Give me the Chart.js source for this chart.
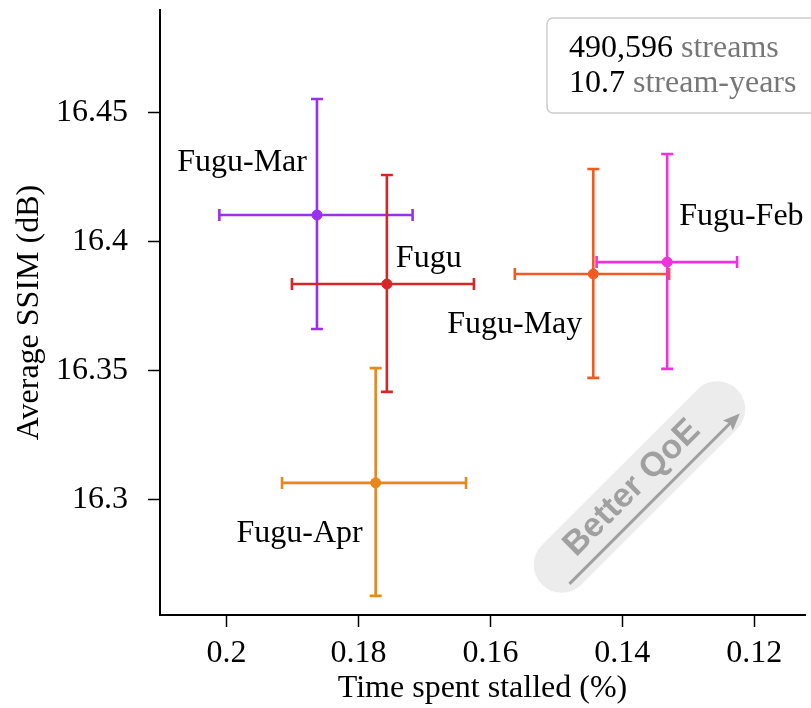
<!DOCTYPE html>
<html>
<head>
<meta charset="utf-8">
<script src="https://cdn.jsdelivr.net/npm/chart.js"></script>
<style>
  body { margin: 0; background: #fff; }
  #wrap { width: 811px; height: 708px; }
</style>
</head>
<body>
<div id="wrap"><canvas id="myChart" width="811" height="708"></canvas></div>
<script>
// data
const names = ['Fugu-Mar', 'Fugu', 'Fugu-Apr', 'Fugu-May', 'Fugu-Feb'];
const stall = [0.1863, 0.1757, 0.1774, 0.1444, 0.1332];      // x, %
const stallLow = [0.2011, 0.1901, 0.1916, 0.1563, 0.1439];   // x error, left end
const stallHigh = [0.1718, 0.1625, 0.1637, 0.1329, 0.1226];  // x error, right end
const ssim = [16.4102, 16.3835, 16.3066, 16.3874, 16.3920];  // y, dB
const ssimHigh = [16.4551, 16.4257, 16.3510, 16.4280, 16.4338];
const ssimLow = [16.3661, 16.3418, 16.2629, 16.3472, 16.3507];
const xTicks = [0.2, 0.18, 0.16, 0.14, 0.12];
const yTicks = [16.3, 16.35, 16.4, 16.45];
const statNums = ['490,596', '10.7'];
const statWords = ['streams', 'stream-years'];

// styles
const colors = ['#9b30ea', '#d62728', '#e8871e', '#f15a24', '#f032dc'];
// label placement relative to each point (px): dx, dy, align
const labelPos = [[-10, -44, 'right'], [9, -17, 'left'], [-13, 59, 'right'], [-11, 59, 'right'], [12, -37, 'left']];

const serif = "'Liberation Serif', 'Times New Roman', serif";
Chart.defaults.font.family = serif;
Chart.defaults.font.size = 32;
Chart.defaults.color = '#000';

const errorBars = {
  id: 'errorBars',
  beforeDatasetsDraw(chart) {
    const c = chart.ctx, xs = chart.scales.x, ys = chart.scales.y;
    c.save();
    c.lineWidth = 2.6;
    names.forEach((n, i) => {
      const px = xs.getPixelForValue(stall[i]), py = ys.getPixelForValue(ssim[i]);
      const x1 = xs.getPixelForValue(stallLow[i]), x2 = xs.getPixelForValue(stallHigh[i]);
      const y1 = ys.getPixelForValue(ssimHigh[i]), y2 = ys.getPixelForValue(ssimLow[i]);
      const cap = 6;
      c.strokeStyle = colors[i];
      c.beginPath();
      c.moveTo(x1, py); c.lineTo(x2, py);
      c.moveTo(x1, py - cap); c.lineTo(x1, py + cap);
      c.moveTo(x2, py - cap); c.lineTo(x2, py + cap);
      c.moveTo(px, y1); c.lineTo(px, y2);
      c.moveTo(px - cap, y1); c.lineTo(px + cap, y1);
      c.moveTo(px - cap, y2); c.lineTo(px + cap, y2);
      c.stroke();
    });
    c.restore();
  },
  afterDraw(chart) {
    const c = chart.ctx, xs = chart.scales.x, ys = chart.scales.y, area = chart.chartArea;
    c.save();
    // point labels
    c.font = '32px ' + serif;
    c.fillStyle = '#000';
    c.textBaseline = 'alphabetic';
    names.forEach((n, i) => {
      const px = xs.getPixelForValue(stall[i]), py = ys.getPixelForValue(ssim[i]);
      const [dx, dy, al] = labelPos[i];
      c.textAlign = al;
      c.fillText(n, px + dx, py + dy);
    });

    // "Better QoE" badge, anchored in data space
    const bx = xs.getPixelForValue(0.1374), by = ys.getPixelForValue(16.305);
    c.save();
    c.translate(bx, by);
    c.rotate(-Math.PI / 4);
    c.fillStyle = '#ececec';
    c.beginPath();
    c.roundRect(-138, -28, 276, 56, 28);
    c.fill();
    c.strokeStyle = '#a0a0a0';
    c.fillStyle = '#a0a0a0';
    c.lineWidth = 3;
    c.beginPath();
    c.moveTo(-118, 19); c.lineTo(112, 19);
    c.stroke();
    c.beginPath();
    c.moveTo(123, 19); c.lineTo(106, 12); c.lineTo(109, 19); c.lineTo(106, 26); c.closePath();
    c.fill();
    c.font = "bold 34px 'Liberation Sans', Arial, sans-serif";
    c.textAlign = 'center';
    c.textBaseline = 'alphabetic';
    c.fillText('Better QoE', -6, 5);
    c.restore();

    // stats box in the upper right
    const left = area.right - 258, top = 18;
    c.fillStyle = 'rgba(255,255,255,0.85)';
    c.strokeStyle = '#cccccc';
    c.lineWidth = 1.5;
    c.beginPath();
    c.roundRect(left, top, 275, 95, 6);
    c.fill();
    c.stroke();
    c.font = '32px ' + serif;
    c.textAlign = 'left';
    statNums.forEach((num, i) => {
      const y = top + 39 + i * 35;
      c.fillStyle = '#000';
      c.fillText(num + ' ', left + 22, y);
      const w = c.measureText(num + ' ').width;
      c.fillStyle = '#777777';
      c.fillText(statWords[i], left + 22 + w, y);
    });
    c.restore();
  }
};

const ctx = document.getElementById('myChart').getContext('2d');
const myChart = new Chart(ctx, {
  type: 'scatter',
  data: {
    datasets: names.map((n, i) => ({
      label: n,
      data: [{ x: stall[i], y: ssim[i] }],
      backgroundColor: colors[i],
      borderColor: colors[i],
      pointRadius: 5,
      pointHoverRadius: 5
    }))
  },
  options: {
    responsive: false,
    animation: false,
    layout: { padding: { top: 10, right: 0, left: 0, bottom: 0 } },
    plugins: { legend: { display: false }, tooltip: { enabled: false } },
    scales: {
      x: {
        type: 'linear',
        reverse: true,
        min: 0.1123,
        max: 0.2101,
        afterBuildTicks: s => { s.ticks = xTicks.map(v => ({ value: v })); },
        afterFit: s => { s.height = 93; s.paddingLeft = 0; s.paddingRight = 0; },
        ticks: { padding: 7, maxRotation: 0, callback: v => String(v) },
        grid: { drawOnChartArea: false, tickLength: 12, tickColor: '#000', tickWidth: 1.5 },
        border: { display: true, color: '#000', width: 2 },
        title: { display: true, text: 'Time spent stalled (%)', padding: { top: 9, bottom: 0 } }
      },
      y: {
        type: 'linear',
        min: 16.2555,
        max: 16.4895,
        afterBuildTicks: s => { s.ticks = yTicks.map(v => ({ value: v })); },
        afterFit: s => { s.width = 160; s.paddingTop = 0; s.paddingBottom = 0; },
        ticks: { padding: 20, callback: v => String(v) },
        grid: { drawOnChartArea: false, tickLength: 12, tickColor: '#000', tickWidth: 1.5 },
        border: { display: true, color: '#000', width: 2 },
        title: { display: true, text: 'Average SSIM (dB)', padding: { top: 10, bottom: 0 } }
      }
    }
  },
  plugins: [errorBars]
});
</script>
</body>
</html>
